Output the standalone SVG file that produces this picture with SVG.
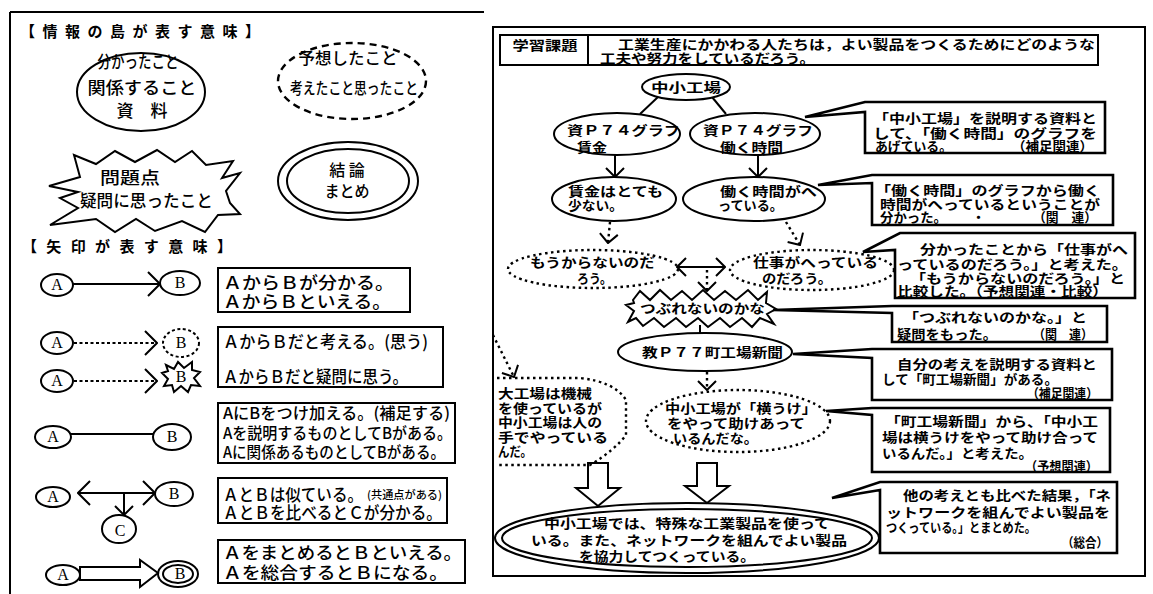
<svg xmlns="http://www.w3.org/2000/svg" width="1153" height="594" viewBox="0 0 1153 594">
<defs>
<style>
.s{fill:none;stroke:#000;stroke-width:2}
.w{fill:#fff;stroke:#000;stroke-width:2}
.b{fill:#fff;stroke:#000;stroke-width:2.6;stroke-linejoin:miter}
.d{fill:none;stroke:#000;stroke-width:2.4;stroke-dasharray:2.5 3.5}
.dl{fill:none;stroke:#000;stroke-width:2;stroke-dasharray:3 2.5}
.ds{fill:none;stroke:#000;stroke-width:2.4;stroke-dasharray:7 5}
text{font-family:"Noto Sans CJK JP","Noto Sans CJK SC",sans-serif;fill:#000}
.L{font-size:17px;font-weight:500}
.L7{font-size:16px;font-weight:500}
.R{font-size:13px;font-weight:700}
.T{font-size:15px;font-weight:700}
.ab{font-family:"Liberation Serif",serif;font-size:16px}
</style>
<marker id="v" viewBox="0 0 14 26" refX="13" refY="13" markerWidth="14" markerHeight="26" markerUnits="userSpaceOnUse" orient="auto-start-reverse"><path d="M1,1 L13,13 L1,25" fill="none" stroke="#000" stroke-width="2"/></marker>
<marker id="vs" viewBox="0 0 11 20" refX="10" refY="10" markerWidth="11" markerHeight="20" markerUnits="userSpaceOnUse" orient="auto-start-reverse"><path d="M1,1 L10,10 L1,19" fill="none" stroke="#000" stroke-width="2"/></marker>
</defs>
<rect width="1153" height="594" fill="#fff"/>

<!-- LEFT LEGEND PANEL -->
<g id="legend-frame">
<path class="s" d="M10,12 H484 M10,12 V594"/>
<text class="T" x="20" y="37" textLength="240">【情報の島が表す意味】</text>
<text class="T" x="22" y="252" textLength="210">【矢印が表す意味】</text>
</g>

<g id="legend-known">
<ellipse class="s" cx="141" cy="92" rx="64" ry="39"/>
<text class="L" x="138" y="68" text-anchor="middle" textLength="81" lengthAdjust="spacingAndGlyphs">分かったこと</text>
<text class="L" x="142" y="94" text-anchor="middle" textLength="109" lengthAdjust="spacingAndGlyphs">関係すること</text>
<text class="L" x="142" y="117" text-anchor="middle">資　料</text>
</g>

<g id="legend-guess">
<ellipse class="ds" cx="352" cy="81" rx="74" ry="38"/>
<text class="L7" x="348" y="64" text-anchor="middle" textLength="99" lengthAdjust="spacingAndGlyphs">予想したこと</text>
<text class="L7" x="354" y="94" text-anchor="middle" textLength="128" lengthAdjust="spacingAndGlyphs">考えたこと思ったこと</text>
</g>

<g id="legend-question">
<polygon class="w" points="49,186 80,177 74,155 96,164 115,151 135,162 157,150 175,162 192,151 206,165 233,161 222,178 240,173 226,191 230,203 240,214 218,215 205,232 182,221 155,231 136,219 115,232 96,219 50,225 78,208 60,198 78,192"/>
<text class="L" x="100" y="184" textLength="60" lengthAdjust="spacingAndGlyphs">問題点</text>
<text class="L" x="80" y="207" textLength="133" lengthAdjust="spacingAndGlyphs">疑問に思ったこと</text>
</g>

<g id="legend-conclusion">
<ellipse class="s" cx="348" cy="181" rx="70" ry="39"/>
<ellipse class="s" cx="348" cy="181" rx="61" ry="32"/>
<text class="L7" x="347" y="176" text-anchor="middle">結 論</text>
<text class="L7" x="347" y="197" text-anchor="middle" textLength="45" lengthAdjust="spacingAndGlyphs">まとめ</text>
</g>

<g id="legend-row1">
<ellipse class="s" cx="57" cy="285" rx="16" ry="11"/><text class="ab" x="57" y="290" text-anchor="middle">A</text>
<line class="s" x1="73" y1="284" x2="160" y2="284" marker-end="url(#v)"/>
<ellipse class="s" cx="180" cy="283" rx="20" ry="12"/><text class="ab" x="180" y="288" text-anchor="middle">B</text>
<rect class="s" x="218" y="268" width="192" height="44"/>
<text class="L" x="223" y="289" textLength="171" lengthAdjust="spacingAndGlyphs">ＡからＢが分かる。</text>
<text class="L" x="223" y="308" textLength="168" lengthAdjust="spacingAndGlyphs">ＡからＢといえる。</text>
</g>

<g id="legend-row2">
<ellipse class="s" cx="57" cy="343" rx="16" ry="11"/><text class="ab" x="57" y="348" text-anchor="middle">A</text>
<line class="dl" x1="74" y1="343" x2="157" y2="343" marker-end="url(#v)"/>
<ellipse class="dl" cx="181" cy="343" rx="18" ry="14"/><text class="ab" x="181" y="348" text-anchor="middle">B</text>
<ellipse class="s" cx="57" cy="381" rx="16" ry="11"/><text class="ab" x="57" y="386" text-anchor="middle">A</text>
<line class="dl" x1="74" y1="381" x2="157" y2="381" marker-end="url(#v)"/>
<polygon class="w" points="166,365 174,369 178,362 184,368 192,362 192,370 200,372 194,378 200,386 191,385 188,392 181,386 174,392 172,385 164,386 168,379 162,373 168,371"/>
<text class="ab" x="181" y="382" text-anchor="middle">B</text>
<rect class="s" x="218" y="327" width="225" height="60"/>
<text class="L" x="223" y="348" textLength="205" lengthAdjust="spacingAndGlyphs">ＡからＢだと考える。(思う)</text>
<text class="L" x="223" y="383" textLength="185" lengthAdjust="spacingAndGlyphs">ＡからＢだと疑問に思う。</text>
</g>

<g id="legend-row3">
<ellipse class="s" cx="53" cy="437" rx="18" ry="11"/><text class="ab" x="53" y="442" text-anchor="middle">A</text>
<line class="s" x1="71" y1="434" x2="153" y2="434"/>
<ellipse class="s" cx="172" cy="437" rx="19" ry="13"/><text class="ab" x="172" y="442" text-anchor="middle">B</text>
<rect class="s" x="218" y="403" width="237" height="60"/>
<text class="L7" x="223" y="419" textLength="227" lengthAdjust="spacingAndGlyphs">AにBをつけ加える。(補足する)</text>
<text class="L7" x="223" y="439" textLength="229" lengthAdjust="spacingAndGlyphs">Aを説明するものとしてBがある。</text>
<text class="L7" x="223" y="458" textLength="222" lengthAdjust="spacingAndGlyphs">Aに関係あるものとしてBがある。</text>
</g>

<g id="legend-row4">
<ellipse class="s" cx="53" cy="497" rx="17" ry="10"/><text class="ab" x="53" y="502" text-anchor="middle">A</text>
<line class="s" x1="78" y1="493" x2="155" y2="493" marker-start="url(#v)" marker-end="url(#v)"/>
<line class="s" x1="124" y1="494" x2="124" y2="515" marker-end="url(#vs)"/>
<ellipse class="s" cx="174" cy="494" rx="19" ry="12"/><text class="ab" x="174" y="499" text-anchor="middle">B</text>
<ellipse class="s" cx="119" cy="529" rx="17" ry="14"/><text class="ab" x="120" y="536" text-anchor="middle">C</text>
<rect class="s" x="218" y="478" width="229" height="45"/>
<text class="L" x="223" y="501" textLength="140" lengthAdjust="spacingAndGlyphs">ＡとＢは似ている。</text>
<text x="367" y="499" font-size="11" font-weight="500" textLength="75" lengthAdjust="spacingAndGlyphs">(共通点がある)</text>
<text class="L" x="223" y="519" textLength="219" lengthAdjust="spacingAndGlyphs">ＡとＢを比べるとＣが分かる。</text>
</g>

<g id="legend-row5">
<ellipse class="s" cx="63" cy="575" rx="17" ry="10"/><text class="ab" x="63" y="580" text-anchor="middle">A</text>
<path class="w" d="M80,567 H140 V560 L158,573 L140,587 V580 H80 Z"/>
<ellipse class="s" cx="178" cy="574" rx="20" ry="13"/>
<ellipse class="s" cx="178" cy="574" rx="15" ry="9"/>
<text class="ab" x="180" y="579" text-anchor="middle">B</text>
<rect class="s" x="218" y="540" width="247" height="43"/>
<text class="L" x="223" y="559" textLength="239" lengthAdjust="spacingAndGlyphs">ＡをまとめるとＢといえる。</text>
<text class="L" x="223" y="579" textLength="225" lengthAdjust="spacingAndGlyphs">Ａを総合するとＢになる。</text>
</g>

<!-- RIGHT PANEL -->
<g id="panel-frame">
<rect class="s" x="493" y="27" width="652" height="549"/>
</g>

<g id="task-header">
<rect class="s" x="500" y="35" width="598" height="30"/>
<line class="s" x1="588" y1="35" x2="588" y2="65"/>
<text class="R" x="545" y="50" text-anchor="middle" textLength="65" lengthAdjust="spacingAndGlyphs">学習課題</text>
<text class="R" x="618" y="49" textLength="477" lengthAdjust="spacingAndGlyphs">工業生産にかかわる人たちは，よい製品をつくるためにどのような</text>
<text class="R" x="600" y="63" textLength="215" lengthAdjust="spacingAndGlyphs">工夫や努力をしているだろう。</text>
</g>

<g id="connectors">
<line class="s" x1="658" y1="97" x2="640" y2="114"/>
<line class="s" x1="712" y1="97" x2="726" y2="114"/>
<line class="s" x1="615" y1="155" x2="615" y2="177" marker-end="url(#vs)"/>
<line class="s" x1="758" y1="155" x2="758" y2="177" marker-end="url(#vs)"/>
<line class="d" x1="610" y1="222" x2="608" y2="243" marker-end="url(#vs)"/>
<line class="d" x1="786" y1="222" x2="800" y2="245" marker-end="url(#vs)"/>
<line class="s" x1="677" y1="267" x2="725" y2="267" marker-start="url(#vs)" marker-end="url(#vs)"/>
<line class="d" x1="707" y1="270" x2="707" y2="291" marker-end="url(#vs)"/>
<line class="s" x1="700" y1="325" x2="700" y2="334"/>
<line class="d" x1="707" y1="372" x2="707" y2="390" marker-end="url(#vs)"/>
<line class="d" x1="493" y1="335" x2="514" y2="377" marker-end="url(#vs)"/>
<path class="w" d="M588,463 H608 V488 H620 L598,506 L576,488 H588 Z"/>
<path class="w" d="M697,463 H717 V486 H729 L707,503 L685,486 H697 Z"/>
</g>

<g id="node-factory">
<ellipse class="w" cx="686" cy="87" rx="44" ry="13"/>
<text class="R" x="686" y="92" text-anchor="middle" textLength="70" lengthAdjust="spacingAndGlyphs">中小工場</text>
</g>

<g id="node-graph-wage">
<ellipse class="w" cx="617" cy="134" rx="63" ry="21"/>
<text class="R" x="567" y="135" textLength="113" lengthAdjust="spacingAndGlyphs">資Ｐ７４グラフ</text>
<text class="R" x="577" y="152" textLength="30" lengthAdjust="spacingAndGlyphs">賃金</text>
</g>

<g id="node-graph-hours">
<ellipse class="w" cx="755" cy="134" rx="65" ry="21"/>
<text class="R" x="703" y="135" textLength="110" lengthAdjust="spacingAndGlyphs">資Ｐ７４グラフ</text>
<text class="R" x="720" y="152" textLength="63" lengthAdjust="spacingAndGlyphs">働く時間</text>
</g>

<g id="node-wage-low">
<ellipse class="w" cx="614" cy="199" rx="62" ry="22"/>
<text class="R" x="568" y="196" textLength="95" lengthAdjust="spacingAndGlyphs">賃金はとても</text>
<text class="R" x="568" y="210" textLength="55" lengthAdjust="spacingAndGlyphs">少ない。</text>
</g>

<g id="node-hours-less">
<ellipse class="w" cx="754" cy="199" rx="71" ry="22"/>
<text class="R" x="720" y="196" textLength="97" lengthAdjust="spacingAndGlyphs">働く時間がへ</text>
<text class="R" x="718" y="210" textLength="65" lengthAdjust="spacingAndGlyphs">っている。</text>
</g>

<g id="node-not-profit">
<ellipse class="d" cx="593" cy="269" rx="85" ry="19"/>
<text class="R" x="530" y="267" textLength="125" lengthAdjust="spacingAndGlyphs">もうからないのだ</text>
<text class="R" x="577" y="283" textLength="35" lengthAdjust="spacingAndGlyphs">ろう。</text>
</g>

<g id="node-less-work">
<ellipse class="d" cx="812" cy="270" rx="82" ry="20"/>
<text class="R" x="753" y="267" textLength="125" lengthAdjust="spacingAndGlyphs">仕事がへっている</text>
<text class="R" x="762" y="283" textLength="70" lengthAdjust="spacingAndGlyphs">のだろう。</text>
</g>

<g id="node-question">
<polygon class="w" points="633,300 640,291 650,300 660,290 671,300 682,291 692,300 703,290 714,300 725,291 736,300 748,290 758,300 767,292 766,303 776,309 767,314 774,324 760,318 752,327 742,318 730,327 720,318 708,327 698,318 686,327 676,318 664,327 654,318 643,326 636,318 628,322 634,311 626,305 634,303"/>
<text class="R" x="640" y="313" textLength="125" lengthAdjust="spacingAndGlyphs">つぶれないのかな</text>
</g>

<g id="node-newspaper">
<ellipse class="w" cx="705" cy="352" rx="87" ry="19"/>
<text class="R" x="642" y="357" textLength="141" lengthAdjust="spacingAndGlyphs">教Ｐ７７町工場新聞</text>
</g>

<g id="node-subcontract">
<ellipse class="d" cx="738" cy="421" rx="92" ry="31"/>
<text class="R" x="665" y="413" textLength="152" lengthAdjust="spacingAndGlyphs">中小工場が「横うけ」</text>
<text class="R" x="667" y="428" textLength="138" lengthAdjust="spacingAndGlyphs">をやって助けあって</text>
<text class="R" x="673" y="443" textLength="85" lengthAdjust="spacingAndGlyphs">いるんだな。</text>
</g>

<g id="node-big-factory">
<path class="d" d="M497,378 L580,378 Q615,382 626,400 L626,435 Q615,450 590,465 L497,465"/>
<text class="R" x="498" y="398" textLength="94" lengthAdjust="spacingAndGlyphs">大工場は機械</text>
<text class="R" x="498" y="413" textLength="104" lengthAdjust="spacingAndGlyphs">を使っているが</text>
<text class="R" x="498" y="427" textLength="104" lengthAdjust="spacingAndGlyphs">中小工場は人の</text>
<text class="R" x="498" y="442" textLength="110" lengthAdjust="spacingAndGlyphs">手でやっている</text>
<text class="R" x="498" y="456" textLength="34" lengthAdjust="spacingAndGlyphs">んだ。</text>
</g>

<g id="node-conclusion">
<ellipse class="s" cx="687" cy="538" rx="192" ry="35"/>
<ellipse class="s" cx="687" cy="538" rx="185" ry="29"/>
<text class="R" x="687" y="528" text-anchor="middle" textLength="286" lengthAdjust="spacingAndGlyphs">中小工場では、特殊な工業製品を使って</text>
<text class="R" x="689" y="545" text-anchor="middle" textLength="316" lengthAdjust="spacingAndGlyphs">いる。また、ネットワークを組んでよい製品</text>
<text class="R" x="667" y="561" text-anchor="middle" textLength="176" lengthAdjust="spacingAndGlyphs">を協力してつくっている。</text>
</g>

<g id="note-1">
<path class="b" d="M805,117 L865,102 L1105,102 L1105,153 L865,153 L865,112 Z"/>
<text class="R" x="873" y="123" textLength="224" lengthAdjust="spacingAndGlyphs">「中小工場」を説明する資料と</text>
<text class="R" x="873" y="138" textLength="224" lengthAdjust="spacingAndGlyphs">して、「働く時間」のグラフを</text>
<text class="R" x="875" y="151" textLength="77" lengthAdjust="spacingAndGlyphs">あげている。</text>
<text class="R" x="1012" y="151" textLength="81" lengthAdjust="spacingAndGlyphs">（補足関連）</text>
</g>

<g id="note-2">
<path class="b" d="M818,185 L872,175 L1113,175 L1113,225 L872,225 L872,183 Z"/>
<text class="R" x="875" y="195" textLength="225" lengthAdjust="spacingAndGlyphs">「働く時間」のグラフから働く</text>
<text class="R" x="880" y="209" textLength="220" lengthAdjust="spacingAndGlyphs">時間がへっているということが</text>
<text class="R" x="880" y="222" textLength="67" lengthAdjust="spacingAndGlyphs">分かった。</text>
<text class="R" x="972" y="222">・</text>
<text class="R" x="1033" y="222" textLength="64" lengthAdjust="spacingAndGlyphs">（関　連）</text>
</g>

<g id="note-3">
<path class="b" d="M863,252 L900,233 L1135,233 L1135,298 L895,298 L895,250 Z"/>
<text class="R" x="920" y="254" textLength="208" lengthAdjust="spacingAndGlyphs">分かったことから「仕事がへ</text>
<text class="R" x="897" y="269" textLength="231" lengthAdjust="spacingAndGlyphs">っているのだろう。」と考えた。</text>
<text class="R" x="910" y="283" textLength="215" lengthAdjust="spacingAndGlyphs">「もうからないのだろう。」と</text>
<text class="R" x="897" y="296" textLength="211" lengthAdjust="spacingAndGlyphs">比較した。（予想関連・比較）</text>
</g>

<g id="note-4">
<path class="b" d="M773,310 L892,306 L1107,306 L1107,342 L892,342 L892,313 Z"/>
<text class="R" x="903" y="322" textLength="184" lengthAdjust="spacingAndGlyphs">「つぶれないのかな。」と</text>
<text class="R" x="897" y="339" textLength="100" lengthAdjust="spacingAndGlyphs">疑問をもった。</text>
<text class="R" x="1033" y="339" textLength="60" lengthAdjust="spacingAndGlyphs">（関　連）</text>
</g>

<g id="note-5">
<path class="b" d="M793,354 L872,349 L1112,349 L1112,400 L872,400 L872,358 Z"/>
<text class="R" x="897" y="369" textLength="200" lengthAdjust="spacingAndGlyphs">自分の考えを説明する資料と</text>
<text class="R" x="882" y="384" textLength="176" lengthAdjust="spacingAndGlyphs">して「町工場新聞」がある。</text>
<text class="R" x="1027" y="398" textLength="71" lengthAdjust="spacingAndGlyphs">（補足関連）</text>
</g>

<g id="note-6">
<path class="b" d="M826,411 L872,408 L1110,408 L1110,472 L872,472 L872,415 Z"/>
<text class="R" x="885" y="426" textLength="213" lengthAdjust="spacingAndGlyphs">「町工場新聞」から、「中小工</text>
<text class="R" x="882" y="442" textLength="216" lengthAdjust="spacingAndGlyphs">場は横うけをやって助け合って</text>
<text class="R" x="882" y="458" textLength="151" lengthAdjust="spacingAndGlyphs">いるんだ。」と考えた。</text>
<text class="R" x="1025" y="471" textLength="73" lengthAdjust="spacingAndGlyphs">（予想関連）</text>
</g>

<g id="note-7">
<path class="b" d="M832,498 L880,482 L1117,482 L1117,553 L880,553 L880,490 Z"/>
<text class="R" x="903" y="500" textLength="208" lengthAdjust="spacingAndGlyphs">他の考えとも比べた結果，「ネ</text>
<text class="R" x="886" y="517" textLength="224" lengthAdjust="spacingAndGlyphs">ットワークを組んでよい製品を</text>
<text class="R" x="886" y="532" textLength="150" lengthAdjust="spacingAndGlyphs">つくっている。」とまとめた。</text>
<text class="R" x="1062" y="547" textLength="46" lengthAdjust="spacingAndGlyphs">（総合）</text>
</g>
</svg>
